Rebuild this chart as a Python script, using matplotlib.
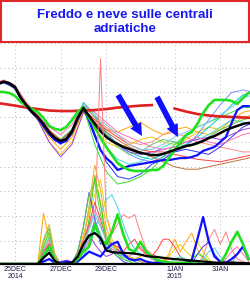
import numpy as np
import matplotlib.pyplot as plt
from matplotlib.patches import Rectangle

# time axis in days from 25DEC 00Z
t6 = np.arange(-0.75, 10.3, 0.25)
t12 = np.arange(-1.0, 10.6, 0.5)

tick_days = [0, 2, 4, 7, 9]
tick_labels = ['25DEC\n2014', '27DEC', '29DEC', '1JAN\n2015', '3JAN']

# temperature (grid units) - thick lines, 6-hourly
temp_mean = [7.34, 7.44, 7.38, 7.22, 6.78, 6.49, 6.21, 6.01, 5.73, 5.40,
             5.16, 5.04, 5.12, 5.44, 5.97, 6.37, 6.05, 5.73, 5.44, 5.20,
             5.04, 4.92, 4.80, 4.72, 4.64, 4.56, 4.52, 4.47, 4.47, 4.52,
             4.60, 4.68, 4.76, 4.84, 4.88, 4.96, 5.04, 5.16, 5.24, 5.36,
             5.48, 5.57, 5.65, 5.73, 5.77]
temp_oper = [7.02, 7.02, 6.98, 6.86, 6.62, 6.45, 6.33, 6.21, 5.97, 5.65,
             5.53, 5.48, 5.61, 5.89, 6.21, 6.41, 5.97, 5.61, 5.16, 4.80,
             4.47, 4.15, 3.99, 3.87, 3.83, 3.83, 3.83, 3.87, 3.87, 4.03,
             4.35, 4.68, 4.96, 5.28, 5.40, 5.73, 6.17, 6.49, 6.70, 6.70,
             6.70, 6.66, 6.54, 6.78, 6.98]
temp_ctrl = [7.34, 7.42, 7.34, 7.18, 6.78, 6.45, 6.21, 5.97, 5.65, 5.32,
             5.08, 4.96, 5.04, 5.40, 5.97, 6.37, 5.89, 5.28, 4.68, 4.35,
             4.15, 3.87, 3.95, 4.03, 4.07, 4.11, 4.15, 4.19, 4.23, 4.27,
             4.27, 4.31, 4.35, 4.35, 4.39, 4.47, 4.64, 4.72, 4.80, 5.00,
             5.20, 5.77, 6.29, 6.45, 6.45]
# climatology, 12-hourly
temp_clim = [6.60, 6.54, 6.47, 6.39, 6.33, 6.27, 6.25, 6.25, 6.27, 6.29,
             6.33, 6.39, 6.43, 6.47, 6.49, np.nan, 6.35, 6.23, 6.13, 6.07,
             6.03, 6.01, 5.99, 5.97]

# ensemble members, 12-hourly
tm1 = [7.35, 7.5, 7.3, 6.6, 6.1, 5.5, 5.1, 5.5, 6.5, 6.0, 5.6, 5.3, 5.0, 4.9, 5.0, 5.3, 5.4, 5.2, 5.0, 4.9, 4.8, 4.7, 4.6, 4.6]
tm2 = [7.2, 7.4, 7.15, 6.4, 5.9, 5.2, 4.7, 5.2, 6.3, 5.9, 5.5, 5.4, 5.6, 5.8, 5.5, 5.3, 5.5, 5.6, 5.4, 5.3, 5.5, 5.9, 6.2, 6.3]
tm3 = [7.3, 7.45, 7.25, 6.5, 5.9, 5.0, 4.5, 5.0, 6.2, 5.5, 5.0, 4.8, 4.9, 5.1, 5.2, 5.0, 4.9, 5.1, 5.4, 5.6, 5.5, 5.7, 6.0, 6.1]
tm4 = [7.3, 7.4, 7.2, 6.5, 6.0, 5.4, 5.0, 5.5, 6.6, 6.1, 5.4, 4.9, 4.6, 4.4, 4.3, 4.5, 4.7, 4.9, 5.2, 5.6, 6.0, 6.5, 6.9, 7.0]
tm5 = [7.25, 7.4, 7.2, 6.45, 5.95, 5.35, 5.05, 5.4, 6.4, 5.6, 4.8, 4.3, 4.1, 4.2, 4.5, 4.8, 5.0, 5.0, 5.1, 5.3, 5.6, 5.9, 5.8, 5.7]
tm6 = [7.3, 7.45, 7.2, 6.5, 6.0, 5.4, 5.0, 5.4, 6.3, 5.7, 5.2, 4.9, 4.5, 4.3, 4.2, 4.4, 4.6, 4.8, 5.3, 5.9, 6.5, 7.0, 7.1, 7.0]
tm7 = [7.3, 7.4, 7.2, 6.4, 5.9, 5.3, 4.9, 5.3, 6.4, 5.2, 4.2, 3.6, 3.5, 3.7, 4.1, 4.3, 4.6, 4.7, 4.6, 4.5, 4.8, 5.2, 5.6, 5.8]
tm8 = [7.3, 7.45, 7.2, 6.5, 5.9, 5.0, 4.4, 4.9, 6.2, 5.8, 5.3, 4.9, 4.6, 4.5, 4.6, 4.7, 4.8, 5.0, 5.1, 5.2, 5.1, 5.3, 5.5, 5.6]
tm9 = [7.35, 7.5, 7.25, 6.55, 6.05, 5.6, 5.3, 5.7, 6.5, 6.2, 5.8, 5.4, 5.2, 5.0, 4.8, 4.7, 4.8, 5.0, 5.2, 5.0, 4.9, 5.1, 5.3, 5.4]
tm10 = [7.3, 7.4, 7.2, 6.5, 6.0, 5.4, 5.1, 5.5, 6.4, 4.9, 3.8, 3.3, 3.4, 3.6, 3.9, 4.4, 4.9, 5.3, 5.6, 5.8, 6.0, 6.2, 6.4, 6.4]
tm11 = [7.3, 7.45, 7.25, 6.5, 6.0, 5.45, 5.1, 5.5, 6.5, 6.0, 5.3, 4.8, 4.5, 4.6, 4.9, 5.1, 5.0, 4.8, 4.9, 5.2, 5.5, 5.7, 5.9, 6.0]
tm12 = [7.3, 7.4, 7.2, 6.45, 5.9, 5.3, 4.95, 5.3, 6.3, 5.8, 5.4, 5.1, 4.8, 4.6, 4.4, 4.2, 4.0, 3.9, 3.9, 4.0, 4.1, 4.2, 4.3, 4.4]
tm13 = [7.35, 7.45, 7.25, 6.5, 6.05, 5.45, 5.05, 5.45, 6.35, 5.9, 5.5, 5.2, 4.9, 4.7, 4.6, 4.6, 4.5, 4.4, 4.3, 4.25, 4.2, 4.3, 4.4, 4.5]
tm14 = [7.3, 7.4, 7.2, 6.45, 5.95, 5.35, 5.0, 5.4, 6.5, 6.1, 5.7, 5.3, 4.9, 4.7, 4.7, 4.9, 5.2, 5.4, 5.6, 5.8, 6.1, 6.4, 6.8, 6.9]
temp_members = [tm1, tm2, tm3, tm4, tm5, tm6, tm7, tm8, tm9, tm10, tm11, tm12, tm13, tm14]
temp_colors = ['#ff8c8c', '#ffa500', '#e8c800', '#00c8d0', '#40e0d0', '#7890ff',
               '#3030ff', '#a040e0', '#ff70b0', '#30e030', '#60c860', '#c07040',
               '#ff4040', '#80c8f0']

# precipitation, 6-hourly (zero before 26DEC)
z = [0] * 8
prec_mean = z + [0.25, 0.45, 0.12, 0, 0.02, 0.05, 0.3, 0.8, 1.15, 1.25,
                 1.05, 0.55, 0.48, 0.46, 0.45, 0.44, 0.42, 0.38, 0.32, 0.3,
                 0.28, 0.25, 0.22, 0.2, 0.18, 0.16, 0.14, 0.12, 0.1, 0.08,
                 0.06, 0.05, 0.05, 0.06, 0.05, 0.04, 0.03]
prec_oper = z + [0.3, 0.7, 0.1, 0, 0, 0, 0.2, 0.5, 0.7, 1.6,
                 1.0, 0.8, 1.3, 2.0, 1.2, 0.6, 0.5, 0.9, 0.5, 0.3,
                 0.15, 0.1, 0.05, 0.05, 0.05, 0.05, 0.03, 0.02, 0, 0,
                 0, 0, 0.4, 0.9, 1.3, 0.8, 0.2]
prec_ctrl = z + [0.1, 0.2, 0.05, 0.05, 0.1, 0.05, 0.1, 0.3, 0.5, 0.4,
                 0.3, 0.6, 0.8, 0.9, 0.4, 0.2, 0.15, 0.2, 0.1, 0.05,
                 0.05, 0.03, 0.03, 0.03, 0.03, 0.05, 0.15, 1.0, 1.9, 0.9,
                 0.3, 0.1, 0.05, 0.2, 0.4, 0.7, 0.2]
pm1 = z + [2.05, 1.0, 0.4, 0, 0, 0, 0.3, 1.0, 2.2, 3.6, 2.5, 1.2, 0.8, 0.6, 0.4, 0.3, 0.2, 0.3, 0.5, 0.3,
           0.2, 0.1, 0.4, 1.0, 0.5, 0.9, 1.25, 0.6, 0.2, 0.1, 0.05, 0, 0, 0, 0, 0, 0]
pm2 = z + [0.6, 1.0, 0.2, 0, 0, 0, 0.2, 0.5, 0.9, 1.5, 8.3, 2.0, 1.2, 1.6, 2.0, 1.85, 2.0, 1.25, 0.6, 0.4,
           0.3, 0.2, 0.1, 0, 0, 0, 0, 0, 0.3, 1.0, 1.4, 0.8, 1.3, 0.6, 0.2, 0.1, 0]
pm3 = z + [0.9, 1.45, 0.3, 0, 0, 0, 0.3, 0.6, 1.8, 3.5, 2.4, 1.0, 0.5, 0.4, 0.2, 0.1, 0, 0, 0, 0,
           0, 0, 0, 0, 0, 0, 0.2, 0.4, 0.3, 0.1, 0, 0, 0, 0, 0, 0, 0]
pm4 = z + [0.4, 0.8, 0.1, 0, 0, 0, 0.1, 0.3, 0.8, 1.4, 2.0, 2.6, 2.8, 2.3, 1.6, 1.0, 0.6, 0.4, 0.3, 0.2,
           0.1, 0, 0, 0, 0, 0, 0, 0, 0.2, 0.5, 0.65, 0.3, 0.1, 0, 0, 0, 0]
pm5 = z + [0.8, 1.2, 0.3, 0, 0, 0, 0.4, 1.2, 2.0, 2.8, 3.4, 2.0, 1.0, 0.6, 0.4, 0.3, 0.2, 0.1, 0, 0,
           0, 0, 0.3, 0.6, 0.8, 0.5, 0.3, 0.9, 0.5, 0.2, 0, 0, 0, 0, 0, 0, 0]
pm6 = z + [0.3, 0.6, 0.1, 0.05, 0.1, 0.05, 0.5, 1.5, 2.9, 1.8, 0.8, 0.9, 0.5, 0.3, 0.1, 0, 0, 0, 0, 0,
           0, 0, 0, 0, 0, 0, 0, 0.4, 0.7, 0.9, 0.4, 0.1, 0, 0, 0, 0, 0]
pm7 = z + [0.2, 0.5, 0.1, 0.1, 0.15, 0.1, 0.2, 0.6, 1.2, 0.8, 0.5, 0.3, 0.4, 0.6, 0.3, 0.2, 0.1, 0, 0, 0,
           0, 0, 0, 0, 0, 0, 0, 0, 0, 0, 0, 0, 0, 0, 0, 0, 0]
pm8 = z + [0.5, 0.9, 0.2, 0, 0, 0, 0.3, 0.8, 1.5, 2.2, 1.6, 0.9, 0.6, 0.5, 0.4, 0.3, 0.5, 0.7, 0.4, 0.2,
           0.1, 0, 0, 0, 0, 0, 0, 0, 0, 0, 0, 0, 0.2, 0.5, 0.7, 0.4, 0.1]
pm9 = z + [0.3, 0.7, 0.1, 0, 0, 0, 0.2, 0.6, 1.0, 1.8, 1.2, 0.7, 0.5, 0.4, 0.3, 0.2, 0.2, 0.1, 0, 0,
           0, 0, 0, 0, 0, 0, 0, 0, 0, 0, 0, 0, 0, 0, 0.4, 0.75, 0.3]
pm10 = z + [0.5, 0.8, 0.2, 0, 0, 0, 0.3, 1.0, 1.6, 2.5, 1.8, 1.0, 0.8, 0.7, 0.5, 0.8, 1.0, 0.6, 0.4, 0.3,
            0.6, 1.0, 1.0, 0.7, 0.3, 0.1, 0, 0, 0, 0, 0, 0, 0, 0, 0, 0, 0]
pm11 = z + [0.6, 1.1, 0.3, 0, 0, 0, 0.2, 0.7, 1.4, 2.0, 1.5, 1.0, 0.7, 0.5, 0.3, 0.2, 0.1, 0, 0, 0,
            0, 0, 0, 0.2, 0.3, 0.2, 0.1, 0, 0, 0, 0, 0, 0, 0, 0, 0, 0]
pm12 = z + [0.7, 1.3, 0.2, 0, 0, 0, 0.5, 1.5, 2.8, 3.3, 2.0, 1.0, 0.5, 0.3, 0.2, 0.1, 0, 0, 0, 0,
            0, 0, 0, 0, 0, 0, 0, 0, 0, 0, 0, 0, 0, 0, 0, 0, 0]
pm13 = z + [1.0, 1.6, 0.4, 0, 0, 0, 0.2, 0.9, 2.4, 4.0, 3.0, 1.5, 0.8, 0.5, 0.4, 0.3, 0.2, 0.1, 0, 0,
            0, 0, 0, 0, 0, 0, 0, 0, 0, 0, 0, 0, 0, 0, 0, 0, 0]
prec_members = [pm1, pm2, pm3, pm4, pm5, pm6, pm7, pm8, pm9, pm10, pm11, pm12, pm13]
prec_colors = ['#ffa500', '#ff8080', '#20e020', '#40d8e8', '#f0d000', '#4040ff',
               '#a040e0', '#ff70b0', '#7090f0', '#ff4040', '#40e0c0', '#60d040', '#e0b040']

# arrows (day, temp units): start, tip
arrow_starts = [(4.52, 6.90), (6.23, 6.82)]
arrow_tips = [(5.57, 5.24), (7.15, 5.20)]

fig = plt.figure(figsize=(2.5, 2.82), dpi=100)
ax = fig.add_axes([0, 18 / 282, 1, 222 / 282])
ax.set_xlim(-15 / 22.8, 235 / 22.8)
ax.set_ylim(0.07, 9.04)
ax2 = ax.twinx()
ax2.set_ylim(0, 8.97)

ax.set_yticks(range(1, 10))
ax.set_xticks(tick_days)
ax.set_xticklabels(tick_labels, fontsize=5, family='Liberation Sans', color='#1a1a4a', linespacing=0.95)
ax.tick_params(axis='both', length=0, pad=1.5, labelleft=False)
ax2.tick_params(length=0, labelright=False)
ax.grid(True, ls=(0, (1, 3)), color='#b4b4c4', lw=0.7)
for s in ['top', 'left', 'right']:
    ax.spines[s].set_visible(False)
    ax2.spines[s].set_visible(False)
ax.spines['bottom'].set_visible(False)
ax2.spines['bottom'].set_color('black')
ax2.spines['bottom'].set_linewidth(1.6)

for vals, c in zip(temp_members, temp_colors):
    ax.plot(t12, vals, color=c, lw=0.7)
ax.plot(t12, temp_clim, color='#e02020', lw=1.9)
ax.plot(t6, temp_ctrl, color='#1010ff', lw=1.6)
ax.plot(t6, temp_oper, color='#20e020', lw=1.9)
ax.plot(t6, temp_mean, color='black', lw=1.8)

for vals, c in zip(prec_members, prec_colors):
    ax2.plot(t6, vals, color=c, lw=0.7)
ax2.plot(t6, prec_ctrl, color='#1010ff', lw=1.6)
ax2.plot(t6, prec_oper, color='#20e020', lw=1.9)
ax2.plot(t6, prec_mean, color='black', lw=1.6)

for a, b in zip(arrow_starts, arrow_tips):
    ax2.annotate('', xy=b, xytext=a, xycoords=ax.transData, textcoords=ax.transData,
                 arrowprops=dict(arrowstyle='simple,head_length=1.2,head_width=1.2,tail_width=0.55',
                                 mutation_scale=7.5, color='#1010ff', lw=0, shrinkA=0, shrinkB=0))

fig.patches.append(Rectangle((0.003, 1 - 41.5 / 282), 0.994, 40.5 / 282, transform=fig.transFigure,
                             facecolor='white', edgecolor='#e02828', lw=1.5, zorder=5))
fig.text(0.5, 1 - 22 / 282, 'Freddo e neve sulle centrali\nadriatiche', ha='center', va='center',
         fontsize=9.6, fontweight='bold', color='#1818f0', family='Liberation Sans', linespacing=1.3,
         zorder=6)

fig.savefig('out.png', dpi=100)
